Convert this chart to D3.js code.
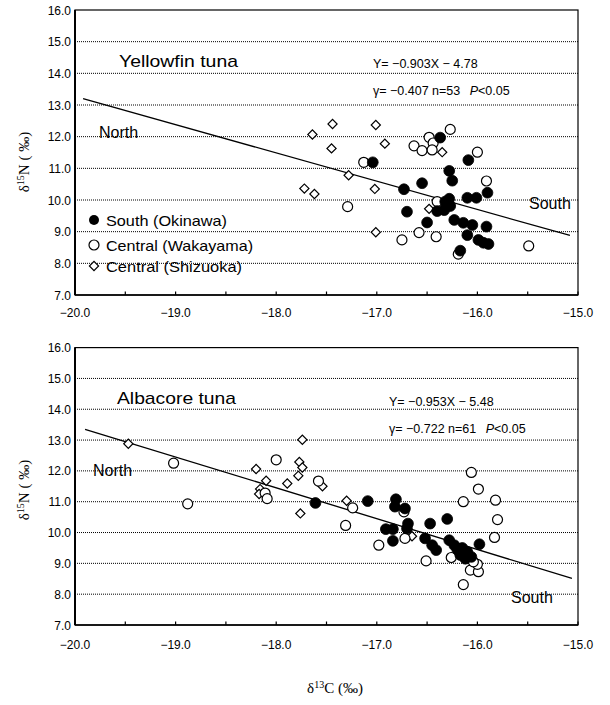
<!DOCTYPE html>
<html><head><meta charset="utf-8">
<script src="https://cdn.jsdelivr.net/npm/d3@7"></script>
<style>body{margin:0;background:#fff}svg{display:block}</style>
</head><body>
<svg id="chart" width="610" height="705"></svg>
<script>
// ---------- data ----------
const xDomain = [-20, -15];
const yDomain = [7, 16];
const xMinorTicks = [-20, -19.5, -19, -18.5, -18, -17.5, -17, -16.5, -16, -15.5, -15];
const xTickLabels = [-20, -19, -18, -17, -16, -15];
const yTickLabels = [7, 8, 9, 10, 11, 12, 13, 14, 15, 16];
const yGridLines = [8, 9, 10, 11, 12, 13, 14, 15];

const seriesNames = ["South (Okinawa)", "Central (Wakayama)", "Central (Shizuoka)"];

// Yellowfin tuna
const yfOkinawa = [
  [-16.37,11.97],[-17.04,11.19],[-16.09,11.26],[-16.28,10.92],[-16.25,10.61],[-16.55,10.53],
  [-16.73,10.34],[-16.28,10.04],[-16.27,9.81],[-16.33,9.68],[-16.40,9.65],[-16.70,9.63],
  [-16.10,10.07],[-16.01,10.07],[-15.90,10.23],[-16.50,9.29],[-16.23,9.37],[-16.14,9.28],
  [-16.05,9.21],[-15.91,9.16],[-16.10,8.89],[-15.99,8.74],[-15.94,8.65],[-15.89,8.61],
  [-16.17,8.40],[-16.32,9.95]
];
const yfWakayama = [
  [-16.27,12.23],[-16.48,11.98],[-16.44,11.80],[-16.63,11.71],[-16.55,11.56],[-16.45,11.58],
  [-17.13,11.19],[-16.00,11.51],[-15.91,10.60],[-16.40,9.95],[-17.29,9.79],[-16.75,8.74],
  [-16.58,8.97],[-16.41,8.84],[-16.19,8.29],[-15.49,8.55]
];
const yfShizuoka = [
  [-17.64,12.07],[-17.44,12.40],[-17.45,11.63],[-17.01,12.37],[-16.92,11.78],[-17.28,10.78],
  [-17.72,10.36],[-17.62,10.19],[-17.02,10.35],[-17.01,8.98],[-16.48,9.72],[-16.35,11.51]
];
const yfRegression = [[-19.92,13.20],[-15.08,8.88]];

// Albacore tuna
const alOkinawa = [
  [-17.61,10.96],[-17.09,11.02],[-16.81,11.08],[-16.82,10.84],[-16.72,10.78],[-16.69,10.29],
  [-16.70,10.13],[-16.91,10.11],[-16.84,10.11],[-16.84,9.73],[-16.47,10.29],[-16.30,10.44],
  [-16.52,9.81],[-16.45,9.59],[-16.41,9.43],[-16.28,9.75],[-16.23,9.59],[-16.15,9.50],
  [-16.17,9.27],[-16.10,9.37],[-16.06,9.21],[-15.98,9.62],[-16.12,9.15],[-16.20,9.45]
];
const alWakayama = [
  [-19.02,12.25],[-18.88,10.93],[-18.00,12.36],[-18.11,11.28],[-18.09,11.10],[-17.58,11.67],
  [-17.24,10.80],[-17.31,10.23],[-16.73,10.67],[-16.72,9.81],[-16.98,9.59],[-16.51,9.08],
  [-16.26,9.19],[-16.07,8.78],[-15.99,8.73],[-16.00,8.97],[-16.14,8.31],[-16.06,11.95],
  [-15.99,11.41],[-16.14,11.00],[-15.82,11.05],[-15.80,10.42],[-15.83,9.84],[-16.04,9.05]
];
const alShizuoka = [
  [-19.47,12.88],[-18.20,12.06],[-18.10,11.68],[-18.16,11.41],[-18.17,11.25],[-17.89,11.59],
  [-17.74,13.01],[-17.77,12.29],[-17.74,12.11],[-17.78,11.84],[-17.76,10.62],[-17.54,11.50],
  [-17.30,11.03],[-16.65,9.88]
];
const alRegression = [[-19.90,13.35],[-15.06,8.51]];

const panelTexts = [
  {title:"Yellowfin tuna", eq:"Y= \u22120.903X \u2212 4.78", stat:"\u03b3= \u22120.407 n=53 ", p:"P", pv:"<0.05"},
  {title:"Albacore tuna", eq:"Y= \u22120.953X \u2212 5.48", stat:"\u03b3= \u22120.722 n=61 ", p:"P", pv:"<0.05"}
];

// ---------- drawing ----------
const svg = d3.select("#chart");
const sans = "'Liberation Sans', Arial, sans-serif";
const serif = "'Liberation Serif', 'Times New Roman', serif";
const fmt = d3.format(".1f");
const diamondPath = d3.symbol().type(d3.symbolSquare).size(42)();

function drawPanel(cfg) {
  const x = d3.scaleLinear().domain(xDomain).range([75, 578]);
  const y = d3.scaleLinear().domain(yDomain).range([cfg.bottom, cfg.top]);
  const g = svg.append("g");

  // grid
  g.selectAll(".grid").data(yGridLines).join("line")
    .attr("x1", x(-20)).attr("x2", x(-15))
    .attr("y1", d => y(d)).attr("y2", d => y(d))
    .attr("stroke", "#000").attr("stroke-width", 1).attr("stroke-dasharray", "1,1");

  // frame
  g.append("rect").attr("x", x(-20)).attr("y", y(16))
    .attr("width", x(-15) - x(-20)).attr("height", y(7) - y(16))
    .attr("fill", "none").attr("stroke", "#000").attr("stroke-width", 1.2);
  g.append("line").attr("x1", x(-20)).attr("x2", x(-20)).attr("y1", y(16)).attr("y2", y(7))
    .attr("stroke", "#000").attr("stroke-width", 2);
  g.append("line").attr("x1", x(-20)).attr("x2", x(-15)).attr("y1", y(7)).attr("y2", y(7))
    .attr("stroke", "#000").attr("stroke-width", 1.6);

  // x ticks (minor, inward)
  g.selectAll(".xt").data(xMinorTicks).join("line")
    .attr("x1", d => x(d)).attr("x2", d => x(d))
    .attr("y1", y(7)).attr("y2", y(7) - 3.5)
    .attr("stroke", "#000").attr("stroke-width", 1.2);

  // x labels
  g.selectAll(".xl").data(xTickLabels).join("text")
    .attr("x", d => x(d)).attr("y", y(7) + cfg.xLabelDy)
    .attr("text-anchor", "middle").attr("font-family", sans).attr("font-size", 12)
    .text(d => fmt(d));

  // y labels
  g.selectAll(".yl").data(yTickLabels).join("text")
    .attr("x", 71).attr("y", d => y(d) + 4.5)
    .attr("text-anchor", "end").attr("font-family", sans).attr("font-size", 12)
    .text(d => fmt(d));

  // y axis title
  const yt = g.append("text")
    .attr("transform", `translate(29,${cfg.yTitleY}) rotate(-90)`)
    .attr("text-anchor", "middle").attr("font-family", serif).attr("font-size", 15);
  yt.append("tspan").text("\u03b4");
  yt.append("tspan").attr("font-size", 10).attr("dy", -5).text("15");
  yt.append("tspan").attr("dy", 5).text("N ( \u2030)");

  // regression line
  g.append("line")
    .attr("x1", x(cfg.reg[0][0])).attr("y1", y(cfg.reg[0][1]))
    .attr("x2", x(cfg.reg[1][0])).attr("y2", y(cfg.reg[1][1]))
    .attr("stroke", "#000").attr("stroke-width", 1.3);

  // points: diamonds, open, filled
  g.selectAll(".dm").data(cfg.shiz).join("path")
    .attr("d", diamondPath)
    .attr("transform", d => `translate(${x(d[0])},${y(d[1])}) rotate(45)`)
    .attr("fill", "#fff").attr("stroke", "#000").attr("stroke-width", 1.2);
  g.selectAll(".oc").data(cfg.waka).join("circle")
    .attr("cx", d => x(d[0])).attr("cy", d => y(d[1])).attr("r", 5)
    .attr("fill", "#fff").attr("stroke", "#000").attr("stroke-width", 1.2);
  g.selectAll(".fc").data(cfg.oki).join("circle")
    .attr("cx", d => x(d[0])).attr("cy", d => y(d[1])).attr("r", 5.4)
    .attr("fill", "#000").attr("stroke", "#000").attr("stroke-width", 0.8);

  // texts
  const t = cfg.texts;
  g.append("text").attr("x", cfg.titleX).attr("y", cfg.titleY)
    .attr("font-family", sans).attr("font-size", 17)
    .attr("textLength", 119).attr("lengthAdjust", "spacingAndGlyphs").text(t.title);
  g.append("text").attr("x", cfg.eqX).attr("y", cfg.eqY)
    .attr("font-family", sans).attr("font-size", 12.5).text(t.eq);
  const st = g.append("text").attr("x", cfg.eqX2).attr("y", cfg.eqY + 27)
    .attr("font-family", sans).attr("font-size", 12.5);
  st.append("tspan").text(t.stat);
  st.append("tspan").attr("dx", 6).attr("font-style", "italic").text(t.p);
  st.append("tspan").text(t.pv);
  g.append("text").attr("x", cfg.northX).attr("y", cfg.northY)
    .attr("font-family", sans).attr("font-size", 16).text("North");
  g.append("text").attr("x", cfg.southX).attr("y", cfg.southY)
    .attr("font-family", sans).attr("font-size", 16).text("South");

  return {x, y, g};
}

const p1 = drawPanel({
  top: 10, bottom: 295, yTitleY: 162, xLabelDy: 22,
  reg: yfRegression, oki: yfOkinawa, waka: yfWakayama, shiz: yfShizuoka,
  texts: panelTexts[0],
  titleX: 119, titleY: 67, eqX: 373, eqX2: 373, eqY: 68,
  northX: 99, northY: 138, southX: 529, southY: 209
});

const p2 = drawPanel({
  top: 347.6, bottom: 625, yTitleY: 490, xLabelDy: 24,
  reg: alRegression, oki: alOkinawa, waka: alWakayama, shiz: alShizuoka,
  texts: panelTexts[1],
  titleX: 117, titleY: 404, eqX: 389, eqX2: 389, eqY: 406,
  northX: 93, northY: 476, southX: 511, southY: 603
});

// legend (top panel)
const lg = svg.append("g");
const legendRows = [220, 245, 266];
lg.append("circle").attr("cx", 94).attr("cy", legendRows[0]).attr("r", 5)
  .attr("fill", "#000");
lg.append("circle").attr("cx", 94).attr("cy", legendRows[1]).attr("r", 5)
  .attr("fill", "#fff").attr("stroke", "#000").attr("stroke-width", 1.2);
lg.append("path").attr("d", diamondPath)
  .attr("transform", `translate(94,${legendRows[2]}) rotate(45)`)
  .attr("fill", "#fff").attr("stroke", "#000").attr("stroke-width", 1.2);
const legendLens = [121, 147, 136];
lg.selectAll(".lt").data(seriesNames).join("text")
  .attr("x", 106).attr("y", (d, i) => legendRows[i] + 5.5)
  .attr("font-family", sans).attr("font-size", 15)
  .attr("textLength", (d, i) => legendLens[i]).attr("lengthAdjust", "spacingAndGlyphs")
  .text(d => d);

// x axis title
const xt = svg.append("text").attr("x", 335).attr("y", 693)
  .attr("text-anchor", "middle").attr("font-family", serif).attr("font-size", 15);
xt.append("tspan").text("\u03b4");
xt.append("tspan").attr("font-size", 10).attr("dy", -5).text("13");
xt.append("tspan").attr("dy", 5).text("C (\u2030)");
</script>
</body></html>
